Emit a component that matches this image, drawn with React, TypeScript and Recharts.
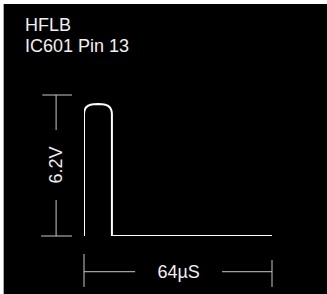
import { Label, Line, LineChart, ReferenceLine, XAxis, YAxis } from "recharts";

// waveform, time in µs and level in volts
const timeUs = [0, 0, 0.15, 0.6, 1.3, 2.2, 3.3, 4.75, 6.2, 7.3, 8.2, 8.9, 9.35, 9.5, 9.5, 64];
const volts = [0, 5.38, 5.52, 5.64, 5.72, 5.77, 5.79, 5.8, 5.79, 5.77, 5.72, 5.64, 5.52, 5.38, 0, 0];

const titleLines = ["HFLB", "IC601 Pin 13"];
const periodUs = 64;
const amplitudeV = 6.2;
const periodLabel = "64µS";
const amplitudeLabel = "6.2V";

const data = timeUs.map((t, i) => ({ t, v: volts[i] }));

const DIM = "#c8c8c8";
const TEXT = "#f0f0f0";
const FONT = "Arial, 'Liberation Sans', sans-serif";

// dimension line positions (data units)
const vDimX = -9.5;
const vTickL = -14.2;
const vTickR = -4.1;
const hDimY = -1.57;

export default function App() {
  return (
    <div
      style={{
        position: "fixed",
        left: 0,
        top: 0,
        width: 327,
        height: 294,
        background: "#fff",
        fontFamily: FONT,
      }}
    >
      <div
        style={{
          position: "absolute",
          left: 3,
          top: 4,
          width: 324,
          height: 290,
          background: "#000",
          borderLeft: "1px solid #aaa",
          boxSizing: "border-box",
        }}
      />
      <div
        style={{
          position: "absolute",
          left: 25,
          top: 15,
          color: TEXT,
          fontSize: 18,
          lineHeight: "21px",
        }}
      >
        {titleLines.map((l) => (
          <div key={l}>{l}</div>
        ))}
      </div>
      <div style={{ position: "absolute", left: 0, top: 0 }}>
        <LineChart
          width={327}
          height={294}
          data={data}
          margin={{ top: 95, right: 55, bottom: 58, left: 84 }}
        >
          <XAxis dataKey="t" type="number" domain={[0, periodUs]} hide allowDataOverflow />
          <YAxis type="number" domain={[0, amplitudeV]} hide allowDataOverflow />

          {/* vertical 6.2V dimension */}
          <ReferenceLine
            segment={[{ x: vTickL, y: amplitudeV }, { x: vTickR, y: amplitudeV }]}
            stroke={DIM}
            ifOverflow="visible"
          />
          <ReferenceLine
            segment={[{ x: vTickL - 0.4, y: 0 }, { x: vTickR, y: 0 }]}
            stroke={DIM}
            ifOverflow="visible"
          />
          <ReferenceLine
            segment={[{ x: vDimX, y: amplitudeV }, { x: vDimX, y: 4.66 }]}
            stroke={DIM}
            ifOverflow="visible"
          />
          <ReferenceLine
            segment={[{ x: vDimX, y: 1.58 }, { x: vDimX, y: 0 }]}
            stroke={DIM}
            ifOverflow="visible"
          />
          <ReferenceLine
            segment={[{ x: vDimX, y: 4.66 }, { x: vDimX, y: 1.58 }]}
            stroke="none"
            ifOverflow="visible"
          >
            <Label
              value={amplitudeLabel}
              position="center"
              angle={-90}
              fill={TEXT}
              fontSize={18}
              fontFamily={FONT}
            />
          </ReferenceLine>

          {/* horizontal 64µS dimension */}
          <ReferenceLine
            segment={[{ x: 0, y: -0.79 }, { x: 0, y: -2.24 }]}
            stroke={DIM}
            ifOverflow="visible"
          />
          <ReferenceLine
            segment={[{ x: periodUs, y: -1.06 }, { x: periodUs, y: -2.24 }]}
            stroke={DIM}
            ifOverflow="visible"
          />
          <ReferenceLine
            segment={[{ x: 0, y: hDimY }, { x: 17.4, y: hDimY }]}
            stroke={DIM}
            ifOverflow="visible"
          />
          <ReferenceLine
            segment={[{ x: 47, y: hDimY }, { x: periodUs, y: hDimY }]}
            stroke={DIM}
            ifOverflow="visible"
          />
          <ReferenceLine
            segment={[{ x: 17.4, y: hDimY }, { x: 47, y: hDimY }]}
            stroke="none"
            ifOverflow="visible"
          >
            <Label
              value={periodLabel}
              position="center"
              fill={TEXT}
              fontSize={18}
              fontFamily={FONT}
            />
          </ReferenceLine>

          <Line
            type="linear"
            dataKey="v"
            stroke="#fff"
            strokeWidth={2}
            dot={false}
            activeDot={false}
            isAnimationActive={false}
          />
        </LineChart>
      </div>
    </div>
  );
}
